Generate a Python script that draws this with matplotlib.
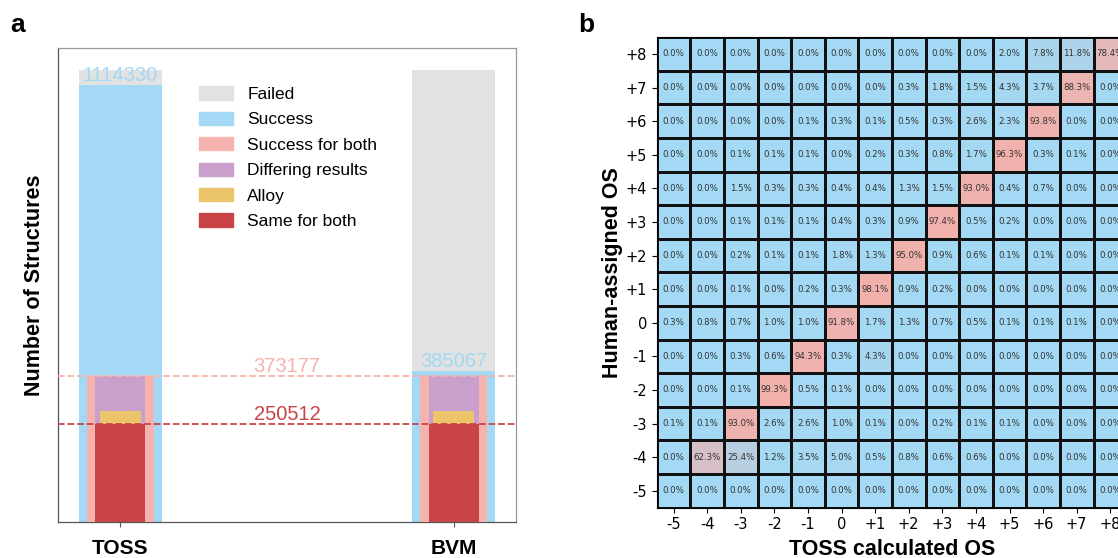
import numpy as np
import matplotlib
matplotlib.use("Agg")
import matplotlib.pyplot as plt
from matplotlib.colors import LinearSegmentedColormap
from matplotlib.patches import Patch

# panel a data
methods = ["TOSS", "BVM"]
total_structures = [1153000, 1153000]
success = [1114330, 385067]
success_both = 373177
same_both = 250512
alloy = 33500

# panel b data: rows = human-assigned OS (+8 at top), cols = TOSS OS (-5 .. +8)
os_labels = ["-5", "-4", "-3", "-2", "-1", "0", "+1", "+2", "+3", "+4", "+5", "+6", "+7", "+8"]
row_p8 = [0.0, 0.0, 0.0, 0.0, 0.0, 0.0, 0.0, 0.0, 0.0, 0.0, 2.0, 7.8, 11.8, 78.4]
row_p7 = [0.0, 0.0, 0.0, 0.0, 0.0, 0.0, 0.0, 0.3, 1.8, 1.5, 4.3, 3.7, 88.3, 0.0]
row_p6 = [0.0, 0.0, 0.0, 0.0, 0.1, 0.3, 0.1, 0.5, 0.3, 2.6, 2.3, 93.8, 0.0, 0.0]
row_p5 = [0.0, 0.0, 0.1, 0.1, 0.1, 0.0, 0.2, 0.3, 0.8, 1.7, 96.3, 0.3, 0.1, 0.0]
row_p4 = [0.0, 0.0, 1.5, 0.3, 0.3, 0.4, 0.4, 1.3, 1.5, 93.0, 0.4, 0.7, 0.0, 0.0]
row_p3 = [0.0, 0.0, 0.1, 0.1, 0.1, 0.4, 0.3, 0.9, 97.4, 0.5, 0.2, 0.0, 0.0, 0.0]
row_p2 = [0.0, 0.0, 0.2, 0.1, 0.1, 1.8, 1.3, 95.0, 0.9, 0.6, 0.1, 0.1, 0.0, 0.0]
row_p1 = [0.0, 0.0, 0.1, 0.0, 0.2, 0.3, 98.1, 0.9, 0.2, 0.0, 0.0, 0.0, 0.0, 0.0]
row_0 = [0.3, 0.8, 0.7, 1.0, 1.0, 91.8, 1.7, 1.3, 0.7, 0.5, 0.1, 0.1, 0.1, 0.0]
row_m1 = [0.0, 0.0, 0.3, 0.6, 94.3, 0.3, 4.3, 0.0, 0.0, 0.0, 0.0, 0.0, 0.0, 0.0]
row_m2 = [0.0, 0.0, 0.1, 99.3, 0.5, 0.1, 0.0, 0.0, 0.0, 0.0, 0.0, 0.0, 0.0, 0.0]
row_m3 = [0.1, 0.1, 93.0, 2.6, 2.6, 1.0, 0.1, 0.0, 0.2, 0.1, 0.1, 0.0, 0.0, 0.0]
row_m4 = [0.0, 62.3, 25.4, 1.2, 3.5, 5.0, 0.5, 0.8, 0.6, 0.6, 0.0, 0.0, 0.0, 0.0]
row_m5 = [0.0] * 14

C_GRAY = "#e2e2e2"
C_BLUE = "#a3d9f4"
C_PINK = "#f6b3ad"
C_PURPLE = "#c8a0cb"
C_YELLOW = "#ecc46a"
C_RED = "#c94446"
SANS = ["Liberation Sans", "DejaVu Sans"]

fig = plt.figure(figsize=(11.18, 5.58), dpi=100)

# ---- panel a ----
ax = fig.add_axes([58 / 1118, (558 - 522) / 558, 458 / 1118, 474.5 / 558])
x = np.arange(len(methods))
ax.bar(x, total_structures, width=0.25, color=C_GRAY, zorder=1)
ax.bar(x, success, width=0.25, color=C_BLUE, zorder=2)
ax.bar(x, [success_both] * 2, width=0.2, color=C_PINK, zorder=3)
ax.bar(x, [success_both] * 2, width=0.15, color=C_PURPLE, zorder=4)
ax.bar(x, [alloy] * 2, bottom=[same_both] * 2, width=0.125, color=C_YELLOW, zorder=5)
ax.bar(x, [same_both] * 2, width=0.15, color=C_RED, zorder=6)

ax.axhline(success_both, color=C_PINK, ls="--", lw=1.3, zorder=7)
ax.axhline(same_both, color=C_RED, ls="--", lw=1.3, zorder=7)
ax.text(0.5, success_both, str(success_both), color=C_PINK, ha="center", va="bottom",
        fontsize=14.5, family=SANS, zorder=8)
ax.text(0.5, same_both, str(same_both), color=C_RED, ha="center", va="bottom",
        fontsize=14.5, family=SANS, zorder=8)
for xi, s in zip(x, success):
    ax.text(xi, s, str(s), color=C_BLUE, ha="center", va="bottom", fontsize=14.5,
            family=SANS, zorder=8)

ax.set_xticks(x)
ax.set_xticklabels(methods, fontsize=15, fontweight="bold", family=SANS)
ax.tick_params(axis="x", pad=9, length=3.5, color="#555555")
ax.set_yticks([])
ax.set_ylabel("Number of Structures", fontsize=15.5, fontweight="bold", family=SANS, labelpad=9)
for sp in ax.spines.values():
    sp.set_color("#999999")
    sp.set_linewidth(0.9)
ax.spines["bottom"].set_color("#555555")
ax.spines["left"].set_color("#555555")

handles = [Patch(color=C_GRAY), Patch(color=C_BLUE), Patch(color=C_PINK),
           Patch(color=C_PURPLE), Patch(color=C_YELLOW), Patch(color=C_RED)]
labels = ["Failed", "Success", "Success for both", "Differing results", "Alloy", "Same for both"]
ax.legend(handles, labels, loc="upper left", bbox_to_anchor=(0.307, 0.918), frameon=False,
          borderpad=0, borderaxespad=0, labelspacing=0.56, handlelength=2.0,
          handleheight=0.8, handletextpad=0.8, prop={"family": SANS, "size": 12.5})

fig.text(10 / 1118, 1 - 25 / 558, "a", fontsize=19, fontweight="bold", family=SANS, va="center")

# ---- panel b ----
matrix = np.array([row_p8, row_p7, row_p6, row_p5, row_p4, row_p3, row_p2, row_p1,
                   row_0, row_m1, row_m2, row_m3, row_m4, row_m5])
cmap = LinearSegmentedColormap.from_list("bp", [C_BLUE, "#f4b0aa"])

axb = fig.add_axes([656.7 / 1118, (558 - 507.5) / 558, 470.4 / 1118, 470.4 / 558])
n = len(os_labels)
axb.pcolormesh(np.arange(n + 1) - 0.5, np.arange(n + 1) - 0.5, matrix, cmap=cmap,
               vmin=0, vmax=100, edgecolors="#111111", linewidth=0.8)
axb.set_xlim(-0.5, n - 0.5)
axb.set_ylim(n - 0.5, -0.5)
for i in range(n):
    for j in range(n):
        axb.text(j, i, f"{matrix[i, j]:.1f}%", ha="center", va="center", fontsize=6.2,
                 color="#333333")
axb.set_xticks(np.arange(n))
axb.set_xticklabels(os_labels, fontsize=10.5)
axb.set_yticks(np.arange(n))
axb.set_yticklabels(os_labels[::-1], fontsize=10.5)
axb.set_xlabel("TOSS calculated OS", fontsize=15.5, fontweight="bold", family=SANS, labelpad=5)
axb.set_ylabel("Human-assigned OS", fontsize=15.5, fontweight="bold", family=SANS, labelpad=2)

fig.text(578 / 1118, 1 - 25 / 558, "b", fontsize=19, fontweight="bold", family=SANS, va="center")

fig.savefig("out.png", dpi=100)
